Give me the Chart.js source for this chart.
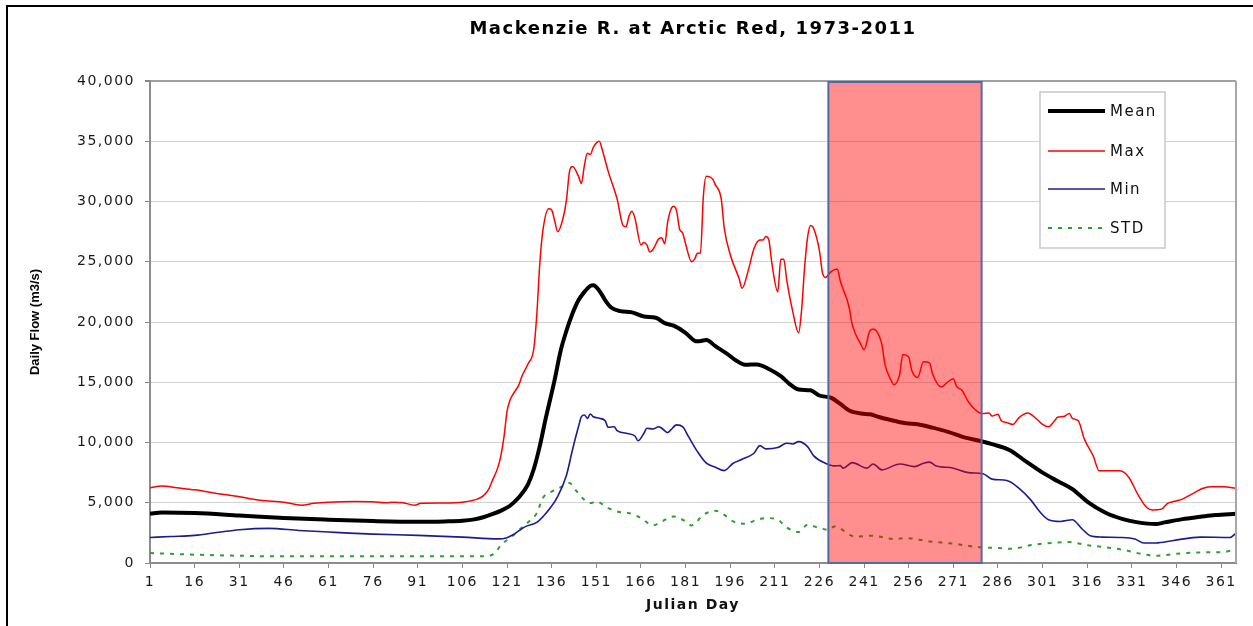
<!DOCTYPE html>
<html><head><meta charset="utf-8">
<script src="https://cdn.jsdelivr.net/npm/chart.js@4/dist/chart.umd.min.js"></script>
<style>html,body{margin:0;padding:0;background:#fff;overflow:hidden}#wrap{width:1253px;height:626px;position:relative}</style>
</head><body><div id="wrap"><canvas id="c"></canvas></div>
<script>
const chartTitle = 'Mackenzie R. at Arctic Red, 1973-2011';
const xTitle = 'Julian Day';
const yTitle = 'Daily Flow (m3/s)';
const xTicks = [1,16,31,46,61,76,91,106,121,136,151,166,181,196,211,226,241,256,271,286,301,316,331,346,361];
const yMin = 0, yMax = 40000, yStep = 5000;
const shadeStart = 229, shadeEnd = 280.5;

const meanDays = [1,5,16,31,46,61,76,91,100,106,110,113,116,119,122,125,128,130,132,134,137,139,141,143,145,147,149,150,152,154,156,159,163,167,171,174,177,181,184,185,188,191,195,198,201,205,209,213,216,219,223,226,230,233,236,240,243,246,249,255,259,264,269,275,280,284,290,295,301,306,311,316,322,328,333,339,342,348,354,359,366];
const meanFlow = [4080,4190,4140,3940,3730,3590,3480,3420,3450,3500,3620,3800,4050,4350,4750,5450,6500,7800,9700,12000,15200,17600,19300,20700,21800,22500,23000,23050,22600,21800,21200,20900,20800,20450,20350,19900,19700,19100,18450,18400,18500,18000,17350,16800,16450,16480,16100,15500,14850,14400,14330,13900,13700,13200,12650,12400,12340,12120,11930,11600,11510,11230,10900,10400,10130,9860,9360,8500,7500,6800,6130,5100,4190,3640,3370,3230,3370,3640,3830,3980,4080];

const maxDays = [1,5,10,16,24,31,38,46,52,56,61,70,76,80,83,86,90,92,100,106,111,113,115,116,118,119,120,121,122,123,125,126,128,130,131,132,133,135,136,137,138,140,141,142,143,145,146,147,148,149,150,152,153,155,158,160,161,162,163,164,166,167,168,169,170,172,173,174,175,176,177,178,179,180,181,183,184,185,186,187,188,190,191,193,194,196,199,200,202,204,206,207,208,209,210,212,213,214,215,217,219,220,221,222,223,224,226,227,228,230,232,233,236,237,240,241,243,244,245,247,248,250,251,253,254,256,257,259,261,263,264,267,269,271,272,274,276,278,280,281,283,284,286,287,289,291,293,296,299,301,303,305,306,308,310,311,313,315,318,320,323,327,330,333,336,338,341,343,345,348,351,355,358,362,366];
const maxFlow = [6250,6400,6250,6070,5750,5500,5200,5050,4800,4950,5050,5100,5080,5000,5050,5000,4800,4950,4980,5050,5300,5570,6200,6800,8000,9000,10500,12600,13500,14000,14800,15500,16500,17800,20600,24800,27500,29400,29300,28400,27500,28800,30200,32500,32900,32100,31500,33000,34000,33900,34500,35000,34300,32500,30200,28000,27900,28800,29200,28600,26400,26600,26400,25800,26000,26900,27000,26500,28300,29300,29600,29200,27700,27400,26500,25000,25200,25700,25700,30500,32100,31900,31400,30200,27800,25600,23600,22800,24200,26100,26800,26800,27100,26800,24900,22500,25200,25200,23500,20900,19100,21000,24500,27000,28000,27800,25900,24100,23700,24200,24400,23400,21200,19800,18100,17700,19300,19400,19300,18100,16500,15200,14800,15700,17300,17100,16000,15400,16700,16600,15700,14600,15000,15300,14700,14300,13400,12800,12450,12400,12450,12200,12350,11850,11650,11500,12050,12450,11950,11500,11300,11800,12100,12150,12400,12000,11800,10300,8900,7650,7650,7650,7100,5700,4600,4400,4470,4950,5100,5300,5700,6200,6320,6320,6200];

const minDays = [1,8,16,24,31,41,51,61,68,76,91,106,118,121,123,125,127,131,134,138,141,143,145,146,147,148,149,150,152,154,155,157,158,161,164,165,167,168,170,172,173,175,176,178,180,182,185,188,191,194,197,200,204,206,208,212,215,217,219,222,224,228,231,233,234,237,242,244,247,253,258,261,263,265,271,276,281,284,289,293,297,300,303,307,311,314,317,321,327,332,335,339,345,354,364,366];
const minFlow = [2120,2200,2290,2550,2760,2870,2700,2570,2480,2400,2290,2150,2000,2100,2340,2680,3000,3370,4100,5500,7300,9400,11300,12140,12280,12000,12370,12140,12010,11800,11260,11310,10980,10770,10540,10150,10770,11180,11120,11310,11180,10820,11040,11460,11310,10490,9240,8280,7950,7670,8280,8610,9110,9740,9470,9580,9940,9880,10070,9660,8910,8280,8060,8080,7870,8330,7870,8220,7730,8220,8000,8280,8370,8080,7870,7500,7400,6960,6840,6210,5240,4270,3590,3450,3590,2900,2260,2150,2120,1990,1660,1660,1870,2150,2120,2480];

const stdDays = [1,16,31,46,113,117,119,122,126,129,131,133,136,140,142,144,147,149,151,155,159,162,166,170,173,177,181,183,187,191,194,197,201,205,208,212,215,219,222,226,229,231,238,244,251,255,263,271,279,286,290,298,304,310,315,321,328,334,339,346,354,362,366];
const stdFlow = [830,690,600,550,550,830,1520,2070,2950,3590,4140,5380,5930,6400,6630,6070,5240,4970,5100,4550,4220,4140,3730,3120,3450,3860,3450,3120,4000,4330,4000,3450,3260,3590,3730,3590,2950,2570,3170,2900,2750,3030,2200,2260,1990,2070,1790,1600,1330,1240,1180,1520,1660,1740,1520,1330,1100,770,600,770,880,910,1160];

const seriesNames = ['Mean','Max','Min','STD'];
const FONT = "'DejaVu Sans', Verdana, sans-serif";
const NARROW = "'Liberation Sans', Arial, sans-serif";

function pts(days, vals){ return days.map((d,i)=>({x:d, y:vals[i]})); }

const decor = {
  id:'decor',
  beforeDraw(chart){
    const ctx = chart.ctx;
    ctx.save();
    ctx.fillStyle = '#fff'; ctx.fillRect(0,0,chart.width,chart.height);
    ctx.strokeStyle = '#000'; ctx.lineWidth = 2;
    ctx.strokeRect(7,6,chart.width+40,chart.height+40);
    ctx.restore();
    ctx.letterSpacing = '1.5px';
  },
  afterDatasetsDraw(chart){
    const {ctx, chartArea:a, scales:{x}} = chart;
    const x0 = x.getPixelForValue(shadeStart), x1 = x.getPixelForValue(shadeEnd);
    ctx.save();
    ctx.fillStyle = 'rgba(255,0,0,0.44)';
    ctx.fillRect(x0, a.top, x1-x0, a.bottom-a.top);
    ctx.strokeStyle = '#4f6aa6'; ctx.lineWidth = 2;
    ctx.strokeRect(x0, a.top+1, x1-x0, a.bottom-a.top-1);
    ctx.strokeStyle = '#a6a6a6'; ctx.lineWidth = 2;
    ctx.beginPath(); ctx.moveTo(a.right, a.top); ctx.lineTo(a.right, a.bottom); ctx.stroke();
    ctx.restore();
  },
  afterDraw(chart){
    const {ctx, chartArea:a} = chart;
    ctx.save();
    ctx.fillStyle = '#000';
    ctx.textAlign = 'center'; ctx.textBaseline = 'middle';
    ctx.font = 'bold 18px ' + FONT;
    ctx.fillText(chartTitle, (a.left+a.right)/2, 29);
    ctx.restore();

    ctx.save();
    ctx.letterSpacing = '0px';
    ctx.translate(35, (a.top+a.bottom)/2);
    ctx.rotate(-Math.PI/2);
    ctx.fillStyle = '#000';
    ctx.textAlign = 'center'; ctx.textBaseline = 'middle';
    ctx.font = 'bold 13px ' + NARROW;
    ctx.fillText(yTitle, 0, 0);
    ctx.restore();

    // legend
    const bx = a.right - 196, by = a.top + 11, bw = 125, bh = 156;
    ctx.save();
    ctx.fillStyle = '#fff'; ctx.fillRect(bx, by, bw, bh);
    ctx.strokeStyle = '#c8c8c8'; ctx.lineWidth = 1.5; ctx.strokeRect(bx, by, bw, bh);
    const rows = [19, 59, 97, 136];
    chart.data.datasets.forEach((ds, i) => {
      const y = by + rows[i];
      ctx.save();
      ctx.strokeStyle = ds.borderColor; ctx.lineWidth = ds.borderWidth;
      ctx.setLineDash(ds.borderDash || []);
      ctx.beginPath(); ctx.moveTo(bx+8, y); ctx.lineTo(bx+65, y); ctx.stroke();
      ctx.restore();
      ctx.fillStyle = '#111'; ctx.font = '15px ' + FONT;
      ctx.textAlign = 'left'; ctx.textBaseline = 'middle';
      ctx.fillText(ds.label, bx+70, y+1);
    });
    ctx.restore();
  }
};

new Chart(document.getElementById('c'), {
  type: 'line',
  data: {
    datasets: [
      {label: seriesNames[0], data: pts(meanDays, meanFlow), borderColor:'#000000', borderWidth:4, pointRadius:0, cubicInterpolationMode:'monotone', order:1},
      {label: seriesNames[1], data: pts(maxDays, maxFlow), borderColor:'#ff0000', borderWidth:1.5, pointRadius:0, cubicInterpolationMode:'monotone', order:2},
      {label: seriesNames[2], data: pts(minDays, minFlow), borderColor:'#1c1c8e', borderWidth:1.6, pointRadius:0, cubicInterpolationMode:'monotone', order:3},
      {label: seriesNames[3], data: pts(stdDays, stdFlow), borderColor:'#2e9e2e', borderWidth:2, borderDash:[4,6], pointRadius:0, cubicInterpolationMode:'monotone', order:4}
    ]
  },
  options: {
    responsive: true, maintainAspectRatio: false, animation: false,
    devicePixelRatio: 1,
    layout: {padding: {top:81, right:17, bottom:0, left:0}},
    plugins: {legend:{display:false}, title:{display:false}, tooltip:{enabled:false}},
    scales: {
      x: {
        type:'linear', min:1, max:366,
        afterBuildTicks: s => { s.ticks = xTicks.map(v => ({value:v})); },
        afterFit: s => { s.height = 63; },
        grid: {drawOnChartArea:false, drawTicks:true, tickLength:5, tickColor:'#888'},
        border: {display:true, color:'#8c8c8c', width:2},
        ticks: {autoSkip:false, maxRotation:0, minRotation:0, padding:6, color:'#1a1a1a', font:{family:FONT, size:14}, callback: v => String(v)},
        title: {display:true, text:xTitle, color:'#111', font:{family:FONT, size:14, weight:'bold'}, padding:{top:0, bottom:12.6}}
      },
      y: {
        min:yMin, max:yMax,
        afterFit: s => { s.width = 150; },
        grid: {color: c => (c.tick && c.tick.value === yMax) ? '#a0a0a0' : '#d2d2d2', lineWidth: c => (c.tick && c.tick.value === yMax) ? 2 : 1, tickLength:5, tickColor:'#888'},
        border: {display:true, color:'#8c8c8c', width:2},
        ticks: {stepSize:yStep, padding:10, color:'#1a1a1a', font:{family:FONT, size:14}, callback: v => v.toLocaleString('en-US')}
      }
    }
  },
  plugins: [decor]
});
</script>
</body></html>
